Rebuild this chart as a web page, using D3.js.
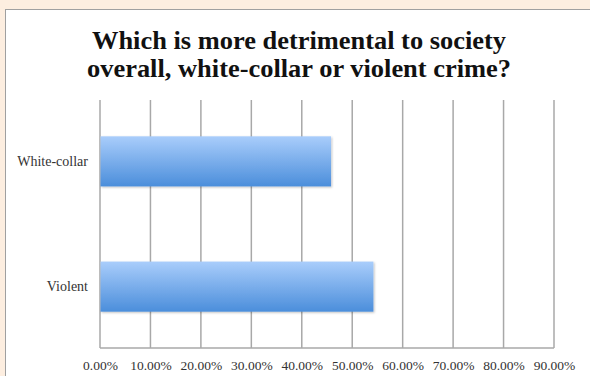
<!DOCTYPE html>
<html>
<head>
<meta charset="utf-8">
<script src="https://cdn.jsdelivr.net/npm/d3@7/dist/d3.min.js"></script>
<style>
  html, body { margin: 0; padding: 0; background: #fdeee0; }
  svg { display: block; }
</style>
</head>
<body>
<svg id="chart" width="590" height="376"></svg>
<script>
// Survey answers
const categories = ["White-collar", "Violent"];
const shares = [45.8, 54.2];
const tickValues = [0, 10, 20, 30, 40, 50, 60, 70, 80, 90];
const titleLines = ["Which is more detrimental to society", "overall, white-collar or violent crime?"];

const W = 590, H = 376;
const svg = d3.select("#chart");
const serif = "'Liberation Serif', 'DejaVu Serif', serif";

// Card background
svg.append("rect").attr("x", 5.5).attr("y", 9.5).attr("width", W).attr("height", H)
  .attr("fill", "#ffffff").attr("stroke", "#a0a0a0").attr("stroke-width", 1);

// Title, two centred lines stretched to a fixed width
const titleWidths = [414, 424];
const title = svg.append("text").attr("text-anchor", "middle")
  .attr("font-family", serif).attr("font-weight", "bold").attr("font-size", 25).attr("fill", "#111");
titleLines.forEach((t, i) => {
  title.append("tspan").attr("x", 299).attr("y", 49 + i * 28)
    .attr("textLength", titleWidths[i]).attr("lengthAdjust", "spacingAndGlyphs").text(t);
});

const x = d3.scaleLinear().domain([0, 90]).range([100, 554]);
const y = d3.scaleBand().domain(categories).range([100, 348]).paddingInner(0.6).paddingOuter(0.29);

const defs = svg.append("defs");
const grad = defs.append("linearGradient").attr("id", "barFill")
  .attr("x1", 0).attr("y1", 0).attr("x2", 0).attr("y2", 1);
grad.append("stop").attr("offset", "0%").attr("stop-color", "#a9cdfb");
grad.append("stop").attr("offset", "100%").attr("stop-color", "#4b8edb");
const shadow = defs.append("filter").attr("id", "barShadow")
  .attr("x", "-5%").attr("y", "-10%").attr("width", "115%").attr("height", "130%");
shadow.append("feDropShadow").attr("dx", 1).attr("dy", 1).attr("stdDeviation", 1)
  .attr("flood-color", "#000").attr("flood-opacity", 0.25);

// Vertical gridlines
svg.append("g").selectAll("line").data(tickValues).join("line")
  .attr("x1", d => x(d)).attr("x2", d => x(d))
  .attr("y1", 100).attr("y2", 348)
  .attr("stroke", "#a8a8a8").attr("stroke-width", 1.5);

// Bottom axis line
svg.append("line").attr("x1", x(0)).attr("x2", x(90)).attr("y1", 348).attr("y2", 348)
  .attr("stroke", "#a8a8a8").attr("stroke-width", 1.5);

// Bars
svg.append("g").selectAll("rect").data(categories).join("rect")
  .attr("x", x(0) + 0.5)
  .attr("y", d => y(d))
  .attr("width", (d, i) => x(shares[i]) - x(0) - 0.5)
  .attr("height", y.bandwidth())
  .attr("fill", "url(#barFill)")
  .attr("filter", "url(#barShadow)");

// X tick labels
const xAxis = d3.axisBottom(x).tickValues(tickValues).tickSize(0).tickPadding(0)
  .tickFormat(d => d.toFixed(2) + "%");
const gx = svg.append("g").attr("transform", "translate(0,360)").call(xAxis);
gx.select(".domain").remove();
gx.selectAll("text").attr("font-family", serif).attr("font-size", 13.5).attr("fill", "#333").attr("dy", "0.71em");

// Category labels
const yAxis = d3.axisLeft(y).tickSize(0).tickPadding(0);
const gy = svg.append("g").attr("transform", "translate(88,0)").call(yAxis);
gy.select(".domain").remove();
gy.selectAll("text").attr("font-family", serif).attr("font-size", 14).attr("fill", "#333");
</script>
</body>
</html>
